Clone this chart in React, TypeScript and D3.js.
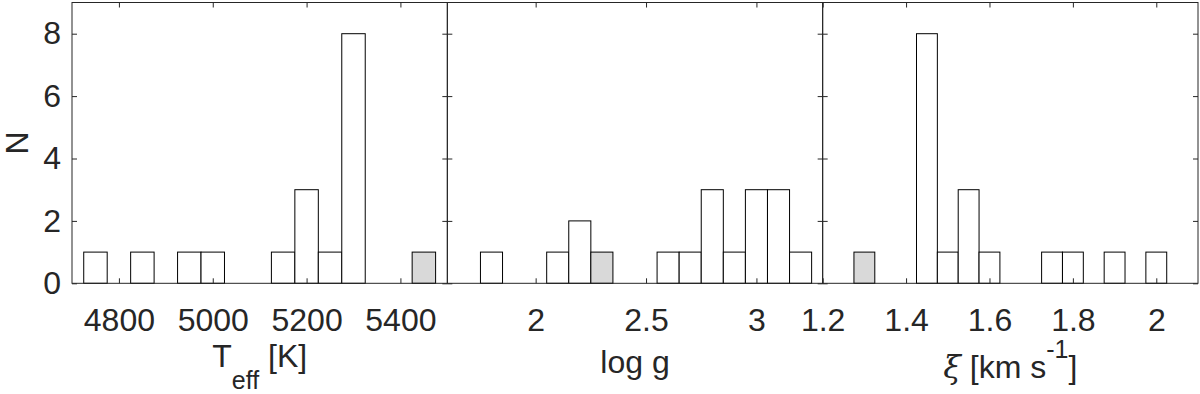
import React, { useEffect, useRef } from 'react';
import * as d3 from 'd3';

// histogram bins: lower edge of each bin and its count, plus which bin is shaded
const teffEdges = [4725, 4825, 4925, 4975, 5125, 5175, 5225, 5275, 5425];
const teffCounts = [1, 1, 1, 1, 1, 3, 1, 8, 1];
const teffShaded = [5425];
const teffTicks = [4800, 5000, 5200, 5400];

const loggEdges = [1.75, 2.05, 2.15, 2.25, 2.55, 2.65, 2.75, 2.85, 2.95, 3.05, 3.15];
const loggCounts = [1, 1, 2, 1, 1, 1, 3, 1, 3, 3, 1];
const loggShaded = [2.25];
const loggTicks = [2, 2.5, 3];

const xiEdges = [1.275, 1.425, 1.475, 1.525, 1.575, 1.725, 1.775, 1.875, 1.975];
const xiCounts = [1, 8, 1, 3, 1, 1, 1, 1, 1];
const xiShaded = [1.275];
const xiTicks = [1.2, 1.4, 1.6, 1.8, 2];

const yTicks = [0, 2, 4, 6, 8];

const panels = [
  { edges: teffEdges, counts: teffCounts, shaded: teffShaded, ticks: teffTicks, domain: [4700, 5500], binWidth: 50 },
  { edges: loggEdges, counts: loggCounts, shaded: loggShaded, ticks: loggTicks, domain: [1.6, 3.3], binWidth: 0.1 },
  { edges: xiEdges, counts: xiCounts, shaded: xiShaded, ticks: xiTicks, domain: [1.2, 2.1], binWidth: 0.05 },
];

const FONT = '"Liberation Sans", Arial, Helvetica, sans-serif';
const INK = '#262626';

export default function App() {
  const ref = useRef<SVGSVGElement>(null);

  useEffect(() => {
    const svg = d3.select(ref.current);
    svg.selectAll('*').remove();

    const width = 1200;
    const height = 394;
    const margin = { top: 2.5, right: 2, bottom: 110.7, left: 72 };
    const innerH = height - margin.top - margin.bottom;
    const fs = 32;
    const tickLen = 5;

    const panelX = d3.scaleBand<number>()
      .domain([0, 1, 2])
      .range([margin.left, width - margin.right])
      .padding(0);
    const pw = panelX.bandwidth();

    const y = d3.scaleLinear().domain([0, 9]).range([margin.top + innerH, margin.top]);

    panels.forEach((p, i) => {
      const x0 = panelX(i)!;
      const x = d3.scaleLinear().domain(p.domain).range([x0, x0 + pw]);
      const g = svg.append('g');

      // bars
      g.selectAll('rect.bar')
        .data(p.edges.map((e, k) => ({ e, c: p.counts[k] })))
        .enter()
        .append('rect')
        .attr('class', 'bar')
        .attr('x', d => x(d.e))
        .attr('y', d => y(d.c))
        .attr('width', d => x(d.e + p.binWidth) - x(d.e))
        .attr('height', d => y(0) - y(d.c))
        .attr('fill', d => (p.shaded.includes(d.e) ? '#d9d9d9' : '#ffffff'))
        .attr('stroke', '#000')
        .attr('stroke-width', 1);

      // box
      g.append('rect')
        .attr('x', x0)
        .attr('y', margin.top)
        .attr('width', pw)
        .attr('height', innerH)
        .attr('fill', 'none')
        .attr('stroke', INK)
        .attr('stroke-width', 1);

      // bottom axis (ticks pointing inwards)
      const bottom = g.append('g')
        .attr('transform', `translate(0,${y(0)})`)
        .call(d3.axisBottom(x).tickValues(p.ticks).tickSizeInner(-tickLen).tickSizeOuter(0)
          .tickPadding(25).tickFormat(d3.format('')));
      bottom.select('.domain').remove();
      bottom.selectAll('line').attr('stroke', INK);
      bottom.selectAll('text')
        .attr('fill', INK)
        .style('font-family', FONT)
        .style('font-size', `${fs}px`);

      // top ticks
      const top = g.append('g')
        .attr('transform', `translate(0,${margin.top})`)
        .call(d3.axisTop(x).tickValues(p.ticks).tickSizeInner(-tickLen).tickSizeOuter(0).tickFormat(() => ''));
      top.select('.domain').remove();
      top.selectAll('line').attr('stroke', INK);

      // left / right ticks
      const left = g.append('g')
        .attr('transform', `translate(${x0},0)`)
        .call(d3.axisLeft(y).tickValues(yTicks).tickSizeInner(-tickLen).tickSizeOuter(0)
          .tickPadding(11).tickFormat(i === 0 ? d3.format('d') : () => ''));
      left.select('.domain').remove();
      left.selectAll('line').attr('stroke', INK);
      left.selectAll('text')
        .attr('fill', INK)
        .style('font-family', FONT)
        .style('font-size', `${fs}px`);

      const right = g.append('g')
        .attr('transform', `translate(${x0 + pw},0)`)
        .call(d3.axisRight(y).tickValues(yTicks).tickSizeInner(-tickLen).tickSizeOuter(0).tickFormat(() => ''));
      right.select('.domain').remove();
      right.selectAll('line').attr('stroke', INK);
    });

    // axis labels
    const cx = (i: number) => panelX(i)! + pw / 2;

    const teff = svg.append('text')
      .attr('x', cx(0))
      .attr('y', 367)
      .attr('text-anchor', 'middle')
      .attr('fill', INK)
      .style('font-family', FONT)
      .style('font-size', `${fs}px`);
    teff.append('tspan').text('T');
    teff.append('tspan').attr('dy', 22).style('font-size', '25px').text('eff');
    teff.append('tspan').attr('dy', -22).text('  [K]');

    svg.append('text')
      .attr('x', cx(1))
      .attr('y', 373)
      .attr('text-anchor', 'middle')
      .attr('fill', INK)
      .style('font-family', FONT)
      .style('font-size', `${fs}px`)
      .text('log g');

    const xi = svg.append('text')
      .attr('x', cx(2))
      .attr('y', 378)
      .attr('text-anchor', 'middle')
      .attr('fill', INK)
      .style('font-family', FONT)
      .style('font-size', `${fs}px`);
    xi.append('tspan').style('font-family', '"DejaVu Serif", serif').style('font-style', 'italic').text('ξ');
    xi.append('tspan').text(' [km s');
    xi.append('tspan').attr('dy', -20).style('font-size', '25px').text('-1');
    xi.append('tspan').attr('dy', 20).text(']');

    svg.append('text')
      .attr('transform', `translate(28,${y(4.5)}) rotate(-90)`)
      .attr('text-anchor', 'middle')
      .attr('fill', INK)
      .style('font-family', FONT)
      .style('font-size', `${fs}px`)
      .text('N');
  }, []);

  return (
    <svg
      ref={ref}
      width={1200}
      height={394}
      style={{ position: 'absolute', left: 0, top: 0, background: '#fff' }}
    />
  );
}
